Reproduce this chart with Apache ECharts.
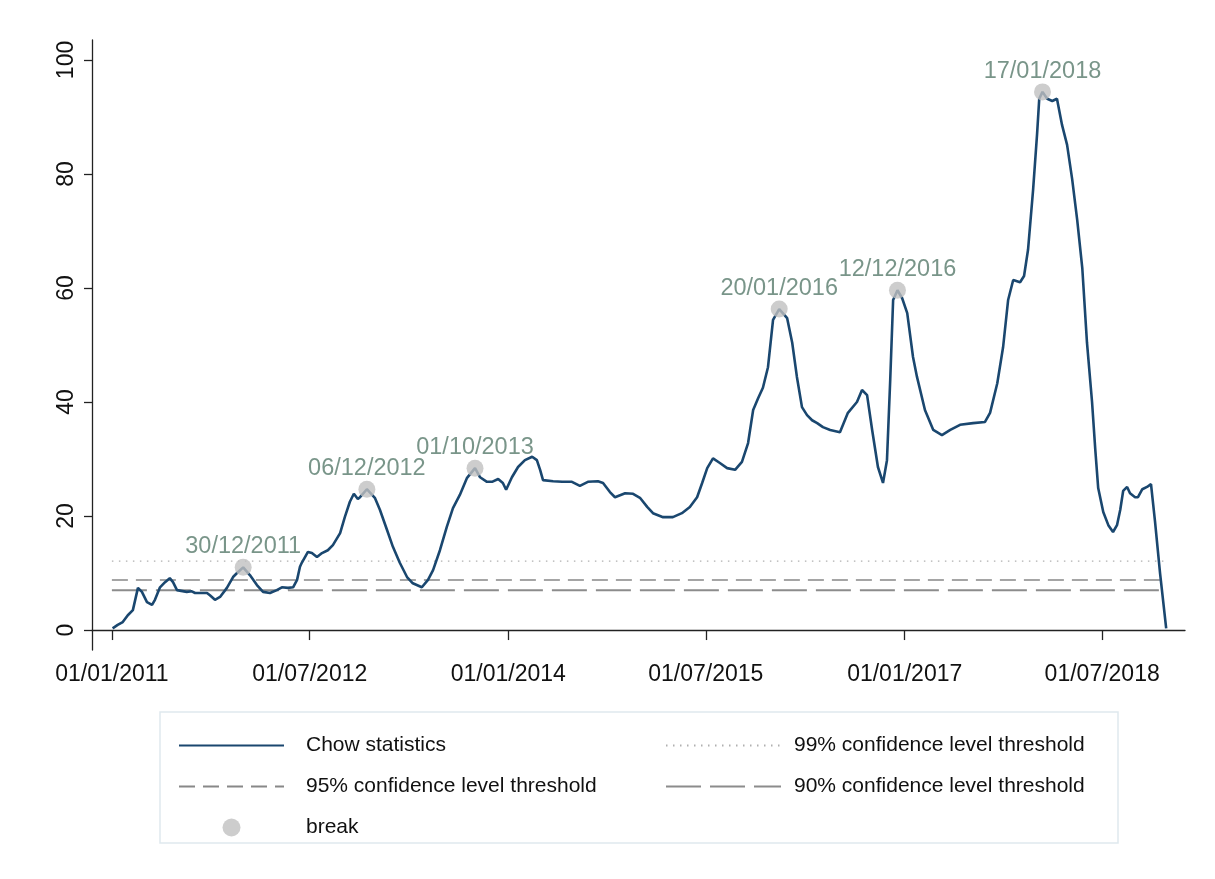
<!DOCTYPE html>
<html>
<head>
<meta charset="utf-8">
<script src="https://cdn.jsdelivr.net/npm/echarts@6/dist/echarts.min.js"></script>
<style>html,body{margin:0;padding:0;background:#fff}#c{width:1215px;height:879px}</style>
</head>
<body>
<div id="c"></div>
<script>
const dates = ['2011-01-03','2011-01-17','2011-01-31','2011-02-14','2011-02-28','2011-03-14','2011-03-25','2011-04-08','2011-04-22','2011-04-30','2011-05-14','2011-05-28','2011-06-10','2011-06-19','2011-06-30','2011-07-27','2011-08-10','2011-08-19','2011-09-21','2011-09-29','2011-10-13','2011-10-27','2011-11-15','2011-12-02','2011-12-13','2011-12-30',
'2012-01-18','2012-02-06','2012-02-23','2012-03-13','2012-04-01','2012-04-15','2012-05-02','2012-05-16','2012-05-27','2012-06-04','2012-06-09','2012-06-26','2012-07-07','2012-07-21','2012-08-04','2012-08-20','2012-09-03','2012-09-23','2012-10-06','2012-10-20','2012-10-31','2012-11-11','2012-11-17','2012-12-06','2012-12-28',
'2013-01-11','2013-01-31','2013-02-16','2013-03-07','2013-03-27','2013-04-12','2013-05-07','2013-05-24','2013-06-07','2013-06-26','2013-07-15','2013-08-01','2013-08-20','2013-09-09','2013-10-01','2013-10-15','2013-11-03','2013-11-17','2013-12-04','2013-12-17','2013-12-26',
'2014-01-11','2014-01-28','2014-02-16','2014-03-08','2014-03-21','2014-03-30','2014-04-07','2014-05-05','2014-05-30','2014-06-26','2014-07-18','2014-08-09','2014-09-06','2014-09-20','2014-10-09','2014-10-23','2014-11-20','2014-12-12','2014-12-31',
'2015-01-20','2015-02-05','2015-03-05','2015-04-01','2015-04-26','2015-05-18','2015-06-07','2015-06-21','2015-07-05','2015-07-21','2015-08-09','2015-08-29','2015-09-20','2015-10-09','2015-10-26','2015-11-09','2015-11-23','2015-12-06','2015-12-20',
'2016-01-03','2016-01-20','2016-02-11','2016-02-25','2016-03-09','2016-03-23','2016-04-06','2016-04-20','2016-05-04','2016-05-20','2016-06-09','2016-07-06','2016-07-28','2016-08-22','2016-09-05','2016-09-19','2016-10-03','2016-10-19','2016-11-02','2016-11-13','2016-11-22','2016-11-30','2016-12-12','2016-12-25',
'2017-01-08','2017-01-24','2017-02-04','2017-02-26','2017-03-21','2017-04-14','2017-05-07','2017-06-03','2017-07-09','2017-08-11','2017-08-25','2017-09-14','2017-09-30','2017-10-14','2017-10-28','2017-11-16','2017-11-27','2017-12-08','2017-12-22',
'2018-01-02','2018-01-08','2018-01-17','2018-01-30','2018-02-13','2018-02-26','2018-03-12','2018-03-26','2018-04-09','2018-04-23','2018-05-07','2018-05-20','2018-06-03','2018-06-12','2018-06-20','2018-07-04','2018-07-18','2018-07-31','2018-08-11','2018-08-20','2018-08-28','2018-09-08','2018-09-16','2018-09-30','2018-10-08','2018-10-20','2018-11-02','2018-11-13','2018-11-24','2018-12-08','2018-12-25'];
const chow = [0.3,0.9,1.4,2.6,3.5,7.4,6.7,4.9,4.4,5.3,7.5,8.4,9.1,8.4,7.0,6.7,6.8,6.5,6.5,6.1,5.3,5.8,7.4,9.3,10.0,11.0,
9.6,7.9,6.7,6.5,7.0,7.5,7.4,7.5,8.8,11.1,11.8,13.7,13.5,12.8,13.5,14.0,14.9,17.0,19.8,22.5,23.9,23.0,23.3,24.7,23.2,
21.1,17.5,14.6,11.8,9.3,8.2,7.5,8.8,10.5,14.0,18.1,21.4,23.7,26.7,28.4,26.8,26.0,26.0,26.5,25.8,24.6,
26.8,28.6,29.8,30.4,29.8,28.1,26.3,26.1,26.0,26.0,25.3,26.0,26.1,25.8,24.2,23.3,24.0,23.9,23.2,
21.6,20.5,19.8,19.8,20.5,21.6,23.3,25.8,28.4,30.1,29.3,28.4,28.1,29.5,32.8,38.6,40.7,42.5,46.1,
54.4,56.3,54.7,50.4,44.4,39.1,37.7,36.8,36.3,35.6,35.1,34.7,38.1,40.0,42.1,41.2,35.1,28.6,25.8,29.8,43.9,57.9,59.6,58.2,
55.6,47.9,44.4,38.6,35.1,34.2,35.1,36.0,36.3,36.5,38.1,43.3,49.6,57.9,61.4,61.0,62.1,66.7,77.2,
87.0,93.2,94.4,93.2,92.8,93.2,88.6,85.1,79.1,71.9,63.5,50.4,40.0,31.6,24.9,20.7,18.4,17.2,18.4,21.1,24.4,25.1,24.0,23.3,23.3,24.7,25.1,25.6,19.1,10.0,0.3];
const breakDates = ['2011-12-30','2012-12-06','2013-10-01','2016-01-20','2016-12-12','2018-01-17'];
const breakValues = [11.0,24.7,28.4,56.3,59.6,94.4];
const thresholdSpan = ['2011-01-01','2018-12-25'];
const threshold99 = 12.1;
const threshold95 = 8.8;
const threshold90 = 7.0;
const xTickDates = ['2011-01-01','2012-07-01','2014-01-01','2015-07-01','2017-01-01','2018-07-01'];
const yTicks = [0,20,40,60,80,100];

function ts(s){const p=s.split('-').map(Number);return Date.UTC(p[0],p[1]-1,p[2]);}
function pad(n){return (n<10?'0':'')+n;}
function fmt(v){const d=new Date(v);return pad(d.getUTCDate())+'/'+pad(d.getUTCMonth()+1)+'/'+d.getUTCFullYear();}

const FONT = 'Liberation Sans, Arial, sans-serif';
const chart = echarts.init(document.getElementById('c'));
const lineData = dates.map((d,i)=>[ts(d),chow[i]]);
const thr = v => thresholdSpan.map(d=>[ts(d),v]);
const hideSym = {opacity:0};
chart.setOption({
  animation:false,
  backgroundColor:'#fff',
  grid:{left:92,right:30,top:40,bottom:229,containLabel:false},
  xAxis:{type:'value',min:ts('2010-11-07'),max:ts('2019-02-15'),scale:true,
    axisLine:{show:true,lineStyle:{color:'#222',width:1.3}},
    axisTick:{show:true,length:10,lineStyle:{color:'#222',width:1.3},customValues:xTickDates.map(ts)},
    axisLabel:{customValues:xTickDates.map(ts),formatter:fmt,color:'#111',fontSize:23,fontFamily:FONT,margin:13,hideOverlap:false},
    splitLine:{show:false}},
  yAxis:{type:'value',min:-3.5,max:103.5,
    axisLine:{show:true,lineStyle:{color:'#222',width:1.3}},
    axisTick:{show:true,length:8,lineStyle:{color:'#222',width:1.3},customValues:yTicks},
    axisLabel:{customValues:yTicks,rotate:90,color:'#111',fontSize:23,fontFamily:FONT,margin:14},
    splitLine:{show:false}},
  legend:[
    {left:173,top:730,orient:'vertical',itemWidth:105,itemHeight:18,itemGap:20,
     textStyle:{fontSize:21,fontFamily:FONT,color:'#111',padding:[0,0,0,17]},
     data:[{name:'Chow statistics',itemStyle:hideSym},{name:'95% confidence level threshold',itemStyle:hideSym},'break']},
    {left:660,top:730,orient:'vertical',itemWidth:115,itemHeight:18,itemGap:20,
     textStyle:{fontSize:21,fontFamily:FONT,color:'#111',padding:[0,0,0,8]},
     data:[{name:'99% confidence level threshold',itemStyle:hideSym},{name:'90% confidence level threshold',itemStyle:hideSym}]}
  ],
  graphic:[{type:'rect',shape:{x:160,y:712,width:958,height:131},style:{fill:'none',stroke:'#dfe9ee',lineWidth:1.5},silent:true}],
  series:[
    {name:'99% confidence level threshold',type:'line',symbol:'none',data:thr(threshold99),lineStyle:{color:'#b0b0b0',width:1.2,type:[1.5,5.5]},z:1},
    {name:'95% confidence level threshold',type:'line',symbol:'none',data:thr(threshold95),lineStyle:{color:'#888888',width:1.5,type:[16,8]},z:1},
    {name:'90% confidence level threshold',type:'line',symbol:'none',data:thr(threshold90),lineStyle:{color:'#8c8c8c',width:2,type:[35,9]},z:1},
    {name:'Chow statistics',type:'line',symbol:'none',data:lineData,lineStyle:{color:'#1a476f',width:2.6},z:3},
    {name:'break',type:'scatter',symbol:'circle',symbolSize:17,itemStyle:{color:'#c0c0c0'},z:4,
     data:breakDates.map((d,i)=>[ts(d),breakValues[i]]),
     label:{show:true,position:'top',distance:0,formatter:p=>fmt(p.value[0]),color:'#587a6c',fontSize:23.5,fontFamily:FONT}}
  ]
});
</script>
</body>
</html>
